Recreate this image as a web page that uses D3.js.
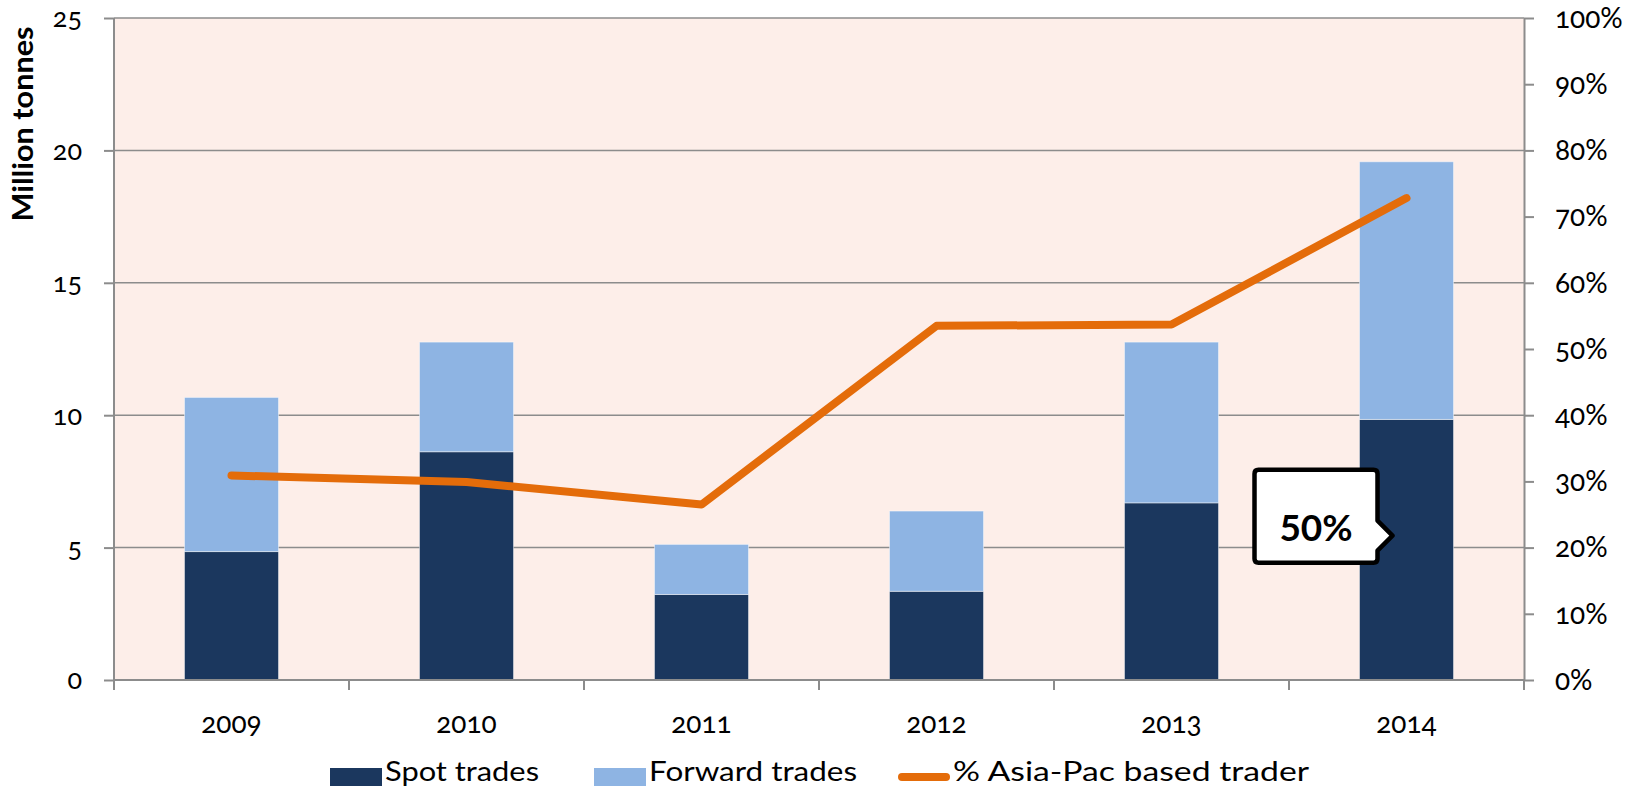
<!DOCTYPE html>
<html lang="en">
<head>
    <meta charset="UTF-8">
    <title>Asia-Pac trades</title>
    <style>
        body { margin: 0; background: #fff; }
        svg text { font-family: Lato, "Open Sans", sans-serif; fill: #000; font-variant-numeric: oldstyle-nums; font-feature-settings: "onum"; }
        .axis path, .axis line { stroke: #8c8c8c; stroke-width: 2; }
        .grid line { stroke: #8c8c8c; stroke-width: 1.5; }
    </style>
</head>
<body>
<script src="https://d3js.org/d3.v7.min.js"></script>
<script>
    // data
    var years = ["2009", "2010", "2011", "2012", "2013", "2014"];
    var spot = [4.85, 8.62, 3.23, 3.35, 6.69, 9.84];
    var forward = [5.82, 4.14, 1.89, 3.03, 6.07, 9.73];
    var asiaPac = [0.309, 0.299, 0.265, 0.535, 0.537, 0.728];
    var leftTicks = [0, 5, 10, 15, 20, 25];
    var rightTicks = [0, 0.1, 0.2, 0.3, 0.4, 0.5, 0.6, 0.7, 0.8, 0.9, 1];
    var seriesNames = ["Spot trades", "Forward trades", "% Asia-Pac based trader"];
    var callout = { label: "50%", year: "2014", value: 5.45 };

    var margin = {top: 18, right: 110, bottom: 113, left: 114},
        width = 1634 - margin.left - margin.right,
        height = 793 - margin.top - margin.bottom;

    var svg = d3.select("body").append("svg")
        .attr("width", 1634)
        .attr("height", 793);

    var g = svg.append("g")
        .attr("transform", "translate(" + margin.left + "," + margin.top + ")");

    var x = d3.scaleBand().domain(years).range([0, width]).paddingInner(0.6).paddingOuter(0.3);
    var xc = d3.scaleBand().domain(years).range([0, width]);
    var y = d3.scaleLinear().domain([0, 25]).range([height, 0]);
    var y2 = d3.scaleLinear().domain([0, 1]).range([height, 0]);

    g.append("rect")
        .attr("width", width).attr("height", height)
        .attr("fill", "#fdeee9");

    // gridlines
    g.append("g").attr("class", "grid")
        .selectAll("line").data(leftTicks.slice(1)).enter().append("line")
        .attr("x1", 0).attr("x2", width)
        .attr("y1", function(d) { return y(d); })
        .attr("y2", function(d) { return y(d); });

    // stacked bars
    var rows = years.map(function(yr, i) { return {year: yr, spot: spot[i], forward: forward[i]}; });
    var stack = d3.stack().keys(["spot", "forward"])(rows);
    var colors = ["#1b375e", "#8eb4e3"];

    g.selectAll(".series").data(stack).enter().append("g")
        .attr("fill", function(d, i) { return colors[i]; })
        .selectAll("rect").data(function(d) { return d; }).enter().append("rect")
        .attr("x", function(d) { return x(d.data.year); })
        .attr("y", function(d) { return y(d[1]); })
        .attr("width", x.bandwidth())
        .attr("height", function(d) { return y(d[0]) - y(d[1]); })
        .attr("stroke", "rgba(255,255,255,0.45)")
        .attr("stroke-width", 1);

    // line
    var line = d3.line()
        .x(function(d, i) { return x(years[i]) + x.bandwidth() / 2; })
        .y(function(d) { return y2(d); });

    g.append("path")
        .datum(asiaPac)
        .attr("d", line)
        .attr("fill", "none")
        .attr("stroke", "#e46c0a")
        .attr("stroke-width", 8)
        .attr("stroke-linecap", "round")
        .attr("stroke-linejoin", "round");

    // left axis
    var yAxis = g.append("g").attr("class", "axis")
        .call(d3.axisLeft(y).tickValues(leftTicks).tickSize(10).tickSizeOuter(0).tickPadding(22));
    yAxis.select(".domain").attr("d", "M0,0V" + (height + 10));
    yAxis.selectAll("text").attr("font-size", 27).attr("dy", "0.33em");

    // right axis
    var y2Axis = g.append("g").attr("class", "axis")
        .attr("transform", "translate(" + width + ",0)")
        .call(d3.axisRight(y2).tickValues(rightTicks).tickFormat(d3.format(".0%")).tickSize(10).tickSizeOuter(0).tickPadding(21));
    y2Axis.selectAll("text").attr("font-size", 28).attr("dy", "0.33em");

    // x axis
    var xAxis = g.append("g").attr("class", "axis")
        .attr("transform", "translate(0," + height + ")");
    xAxis.append("line").attr("x1", 0).attr("x2", width);
    xAxis.selectAll(".tick").data(d3.range(years.length + 1)).enter().append("line")
        .attr("x1", function(i) { return i * xc.step(); })
        .attr("x2", function(i) { return i * xc.step(); })
        .attr("y1", 0).attr("y2", 10);
    xAxis.selectAll(".lab").data(years).enter().append("text")
        .attr("x", function(d) { return xc(d) + xc.bandwidth() / 2; })
        .attr("y", 53)
        .attr("text-anchor", "middle")
        .attr("font-size", 28)
        .text(function(d) { return d; });

    // y axis title
    svg.append("text")
        .attr("transform", "translate(33,124) rotate(-90)")
        .attr("text-anchor", "middle")
        .attr("font-size", 29)
        .attr("font-weight", "bold")
        .attr("textLength", 195)
        .attr("lengthAdjust", "spacingAndGlyphs")
        .text("Million tonnes");

    // callout
    var tipX = margin.left + x(callout.year) + 33;
    var tipY = margin.top + y(callout.value);
    var bx1 = tipX - 138, bx2 = tipX - 15, by1 = tipY - 66, by2 = tipY + 27;
    svg.append("path")
        .attr("d", "M" + (bx1 + 4) + "," + by1 + "H" + (bx2 - 4) + "Q" + bx2 + "," + by1 + " " + bx2 + "," + (by1 + 4) +
            "V" + (tipY - 15) + "L" + tipX + "," + tipY + "L" + bx2 + "," + (tipY + 15) +
            "V" + (by2 - 4) + "Q" + bx2 + "," + by2 + " " + (bx2 - 4) + "," + by2 +
            "H" + (bx1 + 4) + "Q" + bx1 + "," + by2 + " " + bx1 + "," + (by2 - 4) +
            "V" + (by1 + 4) + "Q" + bx1 + "," + by1 + " " + (bx1 + 4) + "," + by1 + "Z")
        .attr("fill", "#fff")
        .attr("stroke", "#000")
        .attr("stroke-width", 4.5)
        .attr("stroke-linejoin", "round");
    svg.append("text")
        .attr("x", (bx1 + bx2) / 2)
        .attr("y", tipY + 5)
        .attr("text-anchor", "middle")
        .attr("font-size", 37)
        .attr("font-weight", "bold")
        .style("font-variant-numeric", "lining-nums")
        .style("font-feature-settings", "'lnum'")
        .text(callout.label);

    // legend
    var legend = svg.append("g").attr("transform", "translate(0,777)");
    var legX = [330, 594, 898];
    var legW = [154, 208, 356];
    legend.append("rect").attr("x", legX[0]).attr("y", -9).attr("width", 52).attr("height", 18).attr("fill", colors[0]);
    legend.append("rect").attr("x", legX[1]).attr("y", -9).attr("width", 52).attr("height", 18).attr("fill", colors[1]);
    legend.append("line").attr("x1", legX[2] + 4).attr("x2", legX[2] + 48).attr("y1", 0).attr("y2", 0)
        .attr("stroke", "#e46c0a").attr("stroke-width", 8).attr("stroke-linecap", "round");
    legend.selectAll(".lt").data(seriesNames).enter().append("text")
        .attr("x", function(d, i) { return legX[i] + 55; })
        .attr("y", 4)
        .attr("font-size", 26)
        .attr("textLength", function(d, i) { return legW[i]; })
        .attr("lengthAdjust", "spacingAndGlyphs")
        .text(function(d) { return d; });
</script>
</body>
</html>
